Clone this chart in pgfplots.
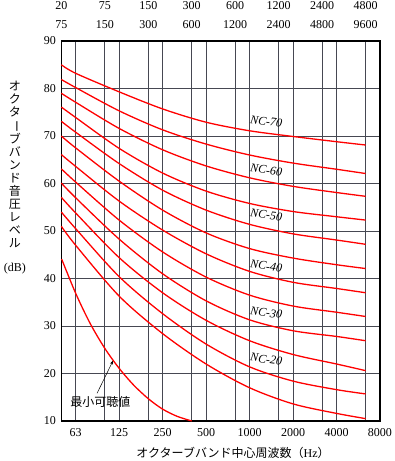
\documentclass[border=0pt]{standalone}
\usepackage{pgfplots}
\pgfplotsset{compat=1.18}
\usepackage{fontspec}
\usepackage{graphicx}
\setmainfont{Liberation Serif}
\newfontfamily\jp{Noto Sans CJK JP}
\usetikzlibrary{arrows.meta}
\definecolor{gridc}{RGB}{70,72,82}
\definecolor{ncred}{RGB}{255,0,0}
\pgfplotsset{ncline/.style={ncred, line width=1.3pt, smooth, mark=none, solid}}

\begin{document}
\begin{tikzpicture}[x=1pt,y=1pt]
\useasboundingbox (0,0) rectangle (394,461);
% top band-edge labels
\begin{axis}[
 at={(61.3pt,40pt)}, anchor=south west,
 scale only axis, width=318.7pt, height=380pt,
 xmin=0.67, xmax=8, ymin=10, ymax=90,
 axis x line*=top, axis y line=none,
 xtick={0.67,1.67,2.67,3.67,4.67,5.67,6.67,7.67},
 xticklabels={{20\\75},{75\\150},{150\\300},{300\\600},{600\\1200},{1200\\2400},{2400\\4800},{4800\\9600}},
 xticklabel style={align=center, font=\fontsize{12}{19}\selectfont, yshift=9pt},
 tick style={draw=none},
 axis line style={draw=none},
]
\end{axis}
\begin{axis}[
 at={(61.3pt,40pt)}, anchor=south west,
 scale only axis, width=318.7pt, height=380pt,
 xmin=0.67, xmax=8, ymin=10, ymax=90,
 xtick={1,2,3,4,5,6,7,8}, xticklabels={63,125,250,500,1000,2000,4000,8000},
 minor xtick={1.67,2.67,3.67,4.67,5.67,6.67,7.67},
 ytick={10,20,30,40,50,60,70,80,90},
 grid=both,
 major grid style={gridc, line width=0.9pt},
 minor grid style={gridc, line width=0.9pt},
 tick style={draw=none},
 axis line style={black, line width=1.1pt},
 tick label style={font=\fontsize{12}{14}\selectfont},
 /pgf/number format/assume math mode=true,
 xticklabel style={yshift=-4pt},
 yticklabel style={xshift=-2pt},
 clip=false,
]
% NC-70
\addplot[ncline] coordinates {(0.67,85.0)(1,83.2)(2,79.3)(3,75.7)(4,72.9)(5,71.1)(6,69.9)(7,68.8)(7.67,68.1)};
% NC-65
\addplot[ncline] coordinates {(0.67,81.9)(1,80.2)(2,75.3)(3,71.3)(4,68.3)(5,66.0)(6,64.3)(7,63.0)(7.67,62.1)};
% NC-60
\addplot[ncline] coordinates {(0.67,79.0)(1,77.1)(2,71.6)(3,67.1)(4,63.7)(5,61.2)(6,59.4)(7,58.1)(7.67,57.3)};
% NC-55
\addplot[ncline] coordinates {(0.67,76.1)(1,73.9)(2,67.4)(3,62.2)(4,58.4)(5,55.8)(6,54.1)(7,53.0)(7.67,52.3)};
% NC-50
\addplot[ncline] coordinates {(0.67,73.1)(1,70.8)(2,64.2)(3,58.6)(4,54.4)(5,51.4)(6,49.4)(7,48.1)(7.67,47.2)};
% NC-45
\addplot[ncline] coordinates {(0.67,70.0)(1,67.5)(2,60.5)(3,54.4)(4,49.6)(5,46.3)(6,44.3)(7,42.9)(7.67,42.1)};
% NC-40
\addplot[ncline] coordinates {(0.67,66.1)(1,63.6)(2,56.3)(3,50.2)(4,45.2)(5,41.5)(6,39.2)(7,37.9)(7.67,37.0)};
% NC-35
\addplot[ncline] coordinates {(0.67,63.1)(1,60.3)(2,52.3)(3,45.6)(4,40.3)(5,36.5)(6,34.2)(7,32.9)(7.67,32.0)};
% NC-30
\addplot[ncline] coordinates {(0.67,60.1)(1,57.0)(2,48.3)(3,41.0)(4,35.3)(5,31.3)(6,29.0)(7,27.8)(7.67,26.9)};
% NC-25
\addplot[ncline] coordinates {(0.67,57.1)(1,53.8)(2,44.4)(3,37.0)(4,31.2)(5,26.9)(6,24.0)(7,22.0)(7.67,20.6)};
% NC-20
\addplot[ncline] coordinates {(0.67,54.0)(1,50.5)(2,40.4)(3,32.6)(4,26.2)(5,21.4)(6,18.4)(7,16.6)(7.67,15.7)};
% NC-15
\addplot[ncline] coordinates {(0.67,51.0)(1,47.0)(2,36.3)(3,28.4)(4,22.0)(5,17.0)(6,13.6)(7,11.6)(7.67,10.5)};
% threshold of hearing
\addplot[ncline] coordinates {(0.678,44.1)(1,36.9)(1.33,30.6)(1.67,25.3)(2,21.1)(2.33,17.6)(2.67,14.7)(3,12.5)(3.33,11.0)(3.67,10.0)};

\begin{scope}[every node/.style={rotate=-8, font=\itshape\fontsize{12}{14}\selectfont, inner sep=0pt}]
\node at (axis cs:5.384,73.05) {NC-70};
\node at (axis cs:5.384,62.8) {NC-60};
\node at (axis cs:5.384,53.4) {NC-50};
\node at (axis cs:5.384,42.6) {NC-40};
\node at (axis cs:5.384,32.8) {NC-30};
\node at (axis cs:5.384,23.0) {NC-20};
\end{scope}
\node[font=\jp\fontsize{12}{14}\selectfont, inner sep=0pt] at (axis cs:1.568,14.06) {最小可聴値};
\draw[-{Stealth[length=4pt,width=3pt]}, line width=0.5pt] (axis cs:1.492,15.83) -- (axis cs:1.86,22.7);

\node[font=\jp\fontsize{12}{12.9}\selectfont, align=center, inner sep=0pt] at (rel axis cs:-0.1453,0.6758)
 {オ\\ク\\タ\\\rotatebox[origin=c]{-90}{ー}\\ブ\\バ\\ン\\ド\\音\\圧\\レ\\ベ\\ル};
\node[font=\fontsize{12}{14}\selectfont, inner sep=0pt] at (rel axis cs:-0.1453,0.4) {(dB)};
\node[font=\fontsize{12}{14}\selectfont, inner sep=0pt] at (rel axis cs:0.5389,-0.0842) {{\jp オクターブバンド中心周波数（}Hz{\jp ）}};
\end{axis}
\end{tikzpicture}
\end{document}
